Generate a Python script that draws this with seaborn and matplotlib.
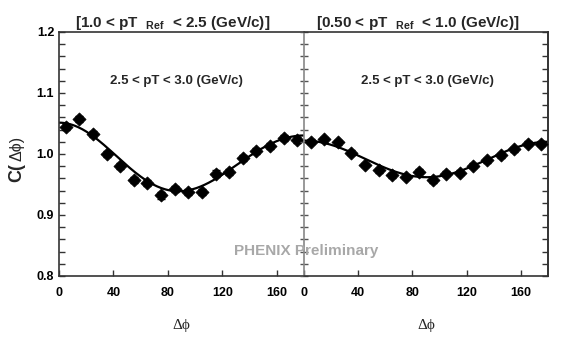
import numpy as np
import pandas as pd
import matplotlib
matplotlib.use("Agg")
import matplotlib.pyplot as plt
import seaborn as sns
from matplotlib.ticker import MultipleLocator, FormatStrFormatter

# Delta-phi bin centres (degrees)
dphi = [5, 15, 25, 35, 45, 55, 65, 75, 85, 95, 105, 115, 125, 135, 145, 155, 165, 175]

# C(dphi), 1.0 < pT_Ref < 2.5
c_high = [1.045, 1.057, 1.033, 1.000, 0.980, 0.957, 0.952, 0.932, 0.942, 0.937,
          0.937, 0.968, 0.971, 0.994, 1.005, 1.013, 1.026, 1.023]
# C(dphi), 0.50 < pT_Ref < 1.0
c_low = [1.020, 1.024, 1.019, 1.002, 0.982, 0.973, 0.965, 0.963, 0.971, 0.957,
         0.968, 0.969, 0.981, 0.990, 0.998, 1.008, 1.017, 1.017]
err_high = [0.005] * len(dphi)
err_low = [0.004] * len(dphi)

# Fourier fit parameters: a0 * (1 + 2 sum_n v_n cos(n dphi))
fit_high = {"a0": 0.990, "v": [0.0030, 0.0257, 0.0023]}
fit_low = {"a0": 0.9915, "v": [0.0005, 0.0149, 0.0]}

titles = ["[1.0 < pT  $_{\\mathbf{Ref}}$  < 2.5 (GeV/c)]",
          "[0.50 < pT  $_{\\mathbf{Ref}}$  < 1.0 (GeV/c)]"]
inner_label = "2.5 < pT < 3.0 (GeV/c)"

sns.set_theme(style="ticks")
plt.rcParams["font.family"] = ["Liberation Sans", "DejaVu Sans"]
plt.rcParams["mathtext.fontset"] = "custom"
plt.rcParams["mathtext.rm"] = "Liberation Sans"
plt.rcParams["mathtext.bf"] = "Liberation Sans:bold"

fig = plt.figure(figsize=(5.72, 3.57), dpi=100)
ax1 = fig.add_axes([59 / 572, 81 / 357, 245 / 572, 244 / 357])
ax2 = fig.add_axes([304 / 572, 81 / 357, 244 / 572, 244 / 357])

panels = [(ax1, c_high, err_high, fit_high, titles[0], 0.48, 0.465),
          (ax2, c_low, err_low, fit_low, titles[1], 0.505, 0.465)]

for ax, c, err, fit, title, tx, ttx in panels:
    df = pd.DataFrame({"dphi": dphi, "C": c, "err": err})
    xs = np.linspace(0, 180, 181)
    r = np.radians(xs)
    harm = sum(2 * vn * np.cos((n + 1) * r) for n, vn in enumerate(fit["v"]))
    fdf = pd.DataFrame({"dphi": xs, "C": fit["a0"] * (1 + harm)})
    sns.lineplot(data=fdf, x="dphi", y="C", ax=ax, color="black", lw=1.6, zorder=2)
    ax.errorbar(df["dphi"], df["C"], yerr=df["err"], fmt="none", ecolor="black",
                elinewidth=1, capsize=3, capthick=1, zorder=3)
    sns.scatterplot(data=df, x="dphi", y="C", ax=ax, marker="D", s=45, color="black",
                    edgecolor="black", linewidth=0.5, zorder=4)

    ax.set_xlim(0, 180)
    ax.set_ylim(0.8, 1.2)
    ax.set_xticks([0, 40, 80, 120, 160])
    ax.yaxis.set_major_locator(MultipleLocator(0.1))
    ax.yaxis.set_minor_locator(MultipleLocator(0.02))
    ax.set_xlabel("Δϕ", family=["Liberation Serif", "DejaVu Serif"], fontsize=11, labelpad=14)
    ax.set_ylabel("")
    ax.tick_params(axis="x", direction="in", length=4, width=1, labelsize=9, pad=8,
                   colors="#333333", labelcolor="black")
    for lab in ax.get_xticklabels():
        lab.set_fontweight("bold")
    for sp in ax.spines.values():
        sp.set_color("#333333")
        sp.set_linewidth(1.2)

    ax.text(ttx, 1.022, title, transform=ax.transAxes, ha="center", va="baseline",
            fontsize=11, fontweight="bold")
    ax.text(tx, 0.80, inner_label, transform=ax.transAxes, ha="center", va="center",
            fontsize=9.5, fontweight="bold")

# left panel: labels on the left, no right spine
ax1.spines["right"].set_visible(False)
ax1.tick_params(axis="y", which="both", direction="in", length=4, width=1, labelsize=9,
                colors="#333333", labelcolor="black")
ax1.yaxis.set_major_formatter(FormatStrFormatter("%.1f"))
for lab in ax1.get_yticklabels():
    lab.set_fontweight("bold")

# right panel: shared grey divider, ticks on both sides, no y labels
ax2.spines["left"].set_color("#888888")
ax2.tick_params(axis="y", which="both", direction="inout", length=6, width=1,
                labelleft=False, left=True, right=False, colors="#555555")
ax2r = ax2.secondary_yaxis("right")
ax2r.yaxis.set_major_locator(MultipleLocator(0.1))
ax2r.yaxis.set_minor_locator(MultipleLocator(0.02))
ax2r.tick_params(axis="y", which="both", direction="in", length=4, width=1,
                 labelright=False, colors="#333333")
ax2r.spines["right"].set_color("#333333")
ax2r.spines["right"].set_linewidth(1.2)

# y label: bold "C(" followed by regular "Δϕ)"
fig.text(17 / 572, 1 - 182 / 357, "C(", rotation=90, ha="center", va="bottom",
         fontsize=13, fontweight="bold")
fig.text(17 / 572, 1 - 161 / 357, "Δϕ)", rotation=90, ha="center", va="bottom",
         fontsize=11.5)
fig.text(306 / 572, 1 - 251 / 357, "PHENIX Preliminary", ha="center", va="center",
         fontsize=11, fontweight="bold", color="#a8a8a8")

fig.savefig("out.png", dpi=100)
